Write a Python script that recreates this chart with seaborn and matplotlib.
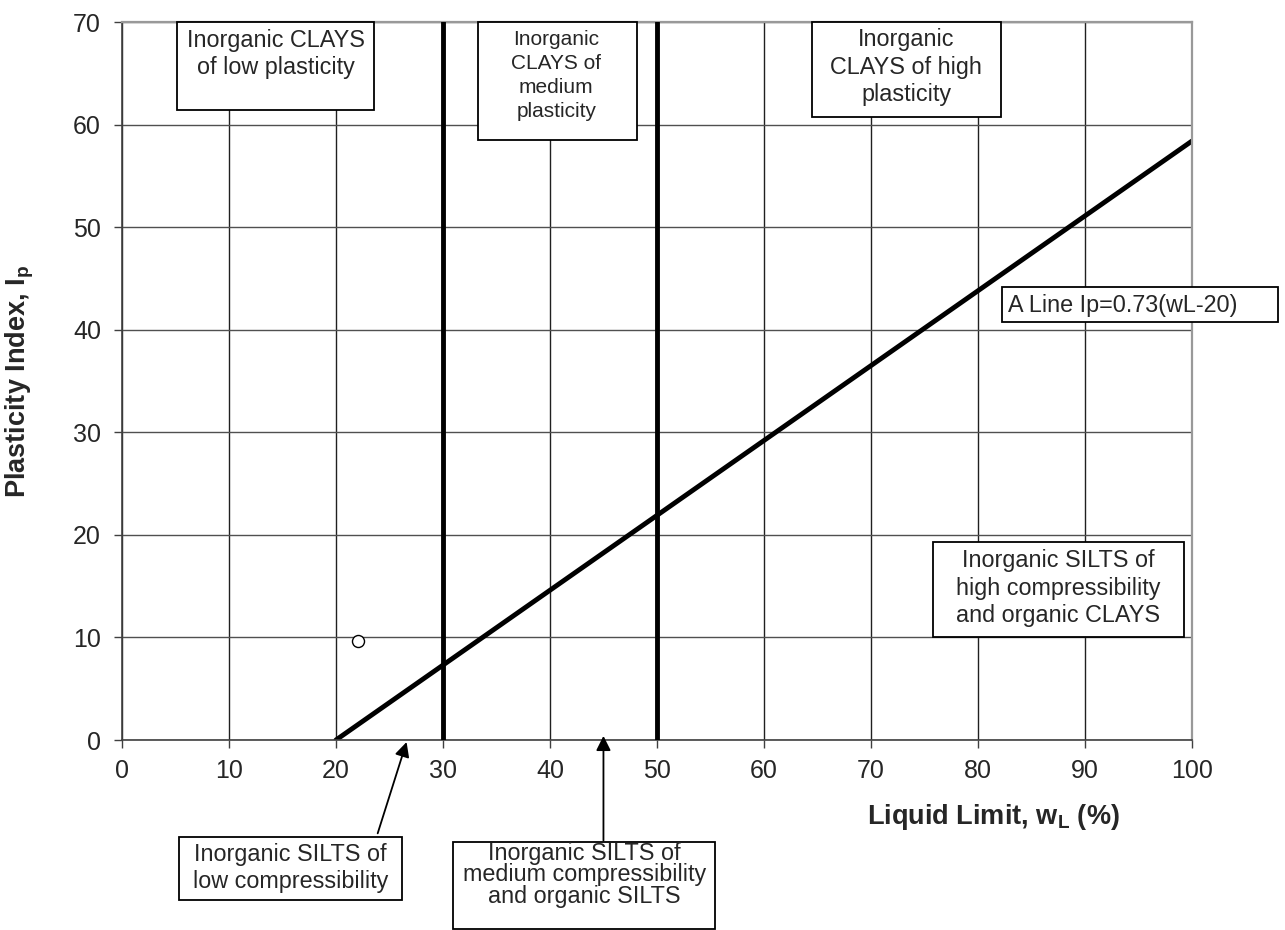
import matplotlib
matplotlib.use("Agg")
import matplotlib.pyplot as plt
import seaborn as sns
from matplotlib.patches import Rectangle

# data
a_line_wl = [20, 100]
a_line_ip = [0, 58.4]
boundaries_wl = [30, 50]
sample_wl = [22.1]
sample_ip = [9.65]
x_ticks = [0, 10, 20, 30, 40, 50, 60, 70, 80, 90, 100]
y_ticks = [0, 10, 20, 30, 40, 50, 60, 70]

sns.set_style("white")
plt.rcParams['font.family'] = ['Liberation Sans', 'DejaVu Sans']
plt.rcParams['mathtext.fontset'] = 'custom'
plt.rcParams['mathtext.rm'] = 'Liberation Sans'
plt.rcParams['mathtext.bf'] = 'Liberation Sans:bold'

fig = plt.figure(figsize=(12.85, 9.3), dpi=100)
ax = fig.add_axes([0.0949, 0.2043, 0.8327, 0.772])

ax.set_xlim(0, 100)
ax.set_ylim(0, 70)
ax.set_xticks(x_ticks)
ax.set_yticks(y_ticks)
ax.grid(True, axis='x', color='#202020', linewidth=1.0)
ax.grid(True, axis='y', color='#505050', linewidth=1.0)
ax.set_axisbelow(True)

for side in ['top', 'right']:
    ax.spines[side].set_color('#999999')
    ax.spines[side].set_linewidth(1.6)
for side in ['left', 'bottom']:
    ax.spines[side].set_color('#404040')
    ax.spines[side].set_linewidth(1.2)

ax.tick_params(axis='both', direction='out', length=6, width=1.0,
               color='#404040', labelsize=18, bottom=True, left=True)
ax.tick_params(axis='x', pad=8)
ax.tick_params(axis='y', pad=9)

# A line and the liquid limit boundaries
sns.lineplot(x=a_line_wl, y=a_line_ip, ax=ax, color='black', linewidth=3.5)
for b in boundaries_wl:
    ax.axvline(b, color='black', linewidth=3.5, zorder=3)

sns.scatterplot(x=sample_wl, y=sample_ip, ax=ax, s=75, facecolor='white',
                edgecolor='black', linewidth=1.0, zorder=5)

ax.set_xlabel(r'Liquid Limit, $\mathbf{w_L}$ (%)', fontsize=19.5,
              fontweight='bold')
ax.xaxis.set_label_coords(0.814, -0.086)
ax.set_ylabel(r'Plasticity Index, $\mathbf{I_p}$', fontsize=19.5,
              fontweight='bold')
ax.yaxis.set_label_coords(-0.08, 0.5)

# label boxes: (x0, x1, y0, y1, text x, text y, text, size, ha, spacing)
boxes = [
    (5.14, 23.55, 61.4, 70, 14.4, 66.9,
     'Inorganic CLAYS\nof low plasticity', 16.8, 'center', 1.25),
    (33.3, 48.1, 58.5, 70, 40.6, 64.8,
     'Inorganic\nCLAYS of\nmedium\nplasticity', 15, 'center', 1.33),
    (64.5, 82.15, 60.7, 70, 73.3, 65.6,
     'Inorganic\nCLAYS of high\nplasticity', 16.8, 'center', 1.25),
    (82.2, 108.0, 40.74, 44.15, 82.8, 42.4,
     'A Line Ip=0.73(wL-20)', 16.8, 'left', 1.2),
    (75.8, 99.25, 10.04, 19.3, 87.5, 14.8,
     'Inorganic SILTS of\nhigh compressibility\nand organic CLAYS', 16.8,
     'center', 1.25),
    (5.33, 26.17, -15.6, -9.45, 15.75, -12.5,
     'Inorganic SILTS of\nlow compressibility', 16.8, 'center', 1.25),
    (30.93, 55.42, -18.42, -9.94, 43.2, -13.16,
     'Inorganic SILTS of\nmedium compressibility\nand organic SILTS', 16.8,
     'center', 0.9),
]
for x0, x1, y0, y1, tx, ty, txt, fs, ha, ls in boxes:
    ax.add_patch(Rectangle((x0, y0), x1 - x0, y1 - y0, facecolor='white',
                           edgecolor='black', linewidth=1.3, zorder=6,
                           clip_on=False))
    ax.text(tx, ty, txt, ha=ha, va='center', fontsize=fs, zorder=7,
            linespacing=ls, multialignment='center', clip_on=False)

# arrows pointing at the axis
arrow_props = dict(arrowstyle='-|>', mutation_scale=22, lw=1.3,
                   color='black', shrinkA=0, shrinkB=0)
ax.annotate('', xy=(26.6, -0.2), xytext=(23.9, -9.1),
            arrowprops=arrow_props, annotation_clip=False)
ax.annotate('', xy=(45.0, 0.4), xytext=(45.0, -9.8),
            arrowprops=arrow_props, annotation_clip=False)

fig.savefig('out.png', dpi=100)
